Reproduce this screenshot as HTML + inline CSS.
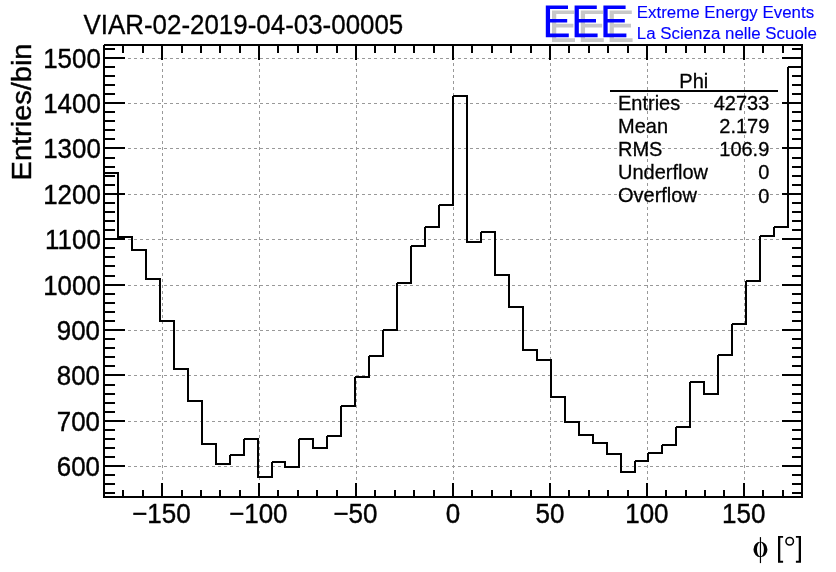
<!DOCTYPE html>
<html><head><meta charset="utf-8"><title>Phi</title>
<style>
html,body{margin:0;padding:0;background:#fff;width:836px;height:572px;overflow:hidden}
svg{display:block;will-change:transform;opacity:0.999}
text{font-family:"Liberation Sans",sans-serif}
</style></head><body>
<svg width="836" height="572" viewBox="0 0 836 572">
<g stroke="#999" stroke-width="1" stroke-dasharray="3 3" shape-rendering="crispEdges">
<line x1="104" y1="466.5" x2="802" y2="466.5"/>
<line x1="104" y1="421.5" x2="802" y2="421.5"/>
<line x1="104" y1="375.5" x2="802" y2="375.5"/>
<line x1="104" y1="330.5" x2="802" y2="330.5"/>
<line x1="104" y1="285.5" x2="802" y2="285.5"/>
<line x1="104" y1="239.5" x2="802" y2="239.5"/>
<line x1="104" y1="194.5" x2="802" y2="194.5"/>
<line x1="104" y1="148.5" x2="802" y2="148.5"/>
<line x1="104" y1="103.5" x2="802" y2="103.5"/>
<line x1="104" y1="58.5" x2="802" y2="58.5"/>
<line x1="162.5" y1="498" x2="162.5" y2="45"/>
<line x1="259.5" y1="498" x2="259.5" y2="45"/>
<line x1="356.5" y1="498" x2="356.5" y2="45"/>
<line x1="453.5" y1="498" x2="453.5" y2="45"/>
<line x1="550.5" y1="498" x2="550.5" y2="45"/>
<line x1="647.5" y1="498" x2="647.5" y2="45"/>
<line x1="744.5" y1="498" x2="744.5" y2="45"/>
</g>
<g shape-rendering="crispEdges">
<rect x="103" y="44" width="700" height="2" fill="#000"/>
<rect x="103" y="496" width="700" height="2" fill="#000"/>
<rect x="103" y="44" width="2" height="454" fill="#000"/>
<rect x="801" y="44" width="2" height="454" fill="#000"/>
<rect x="104" y="492" width="11" height="2" fill="#000"/>
<rect x="792" y="492" width="10" height="2" fill="#000"/>
<rect x="104" y="483" width="11" height="2" fill="#000"/>
<rect x="792" y="483" width="10" height="2" fill="#000"/>
<rect x="104" y="474" width="11" height="2" fill="#000"/>
<rect x="792" y="474" width="10" height="2" fill="#000"/>
<rect x="104" y="465" width="21" height="2" fill="#000"/>
<rect x="782" y="465" width="20" height="2" fill="#000"/>
<rect x="104" y="456" width="11" height="2" fill="#000"/>
<rect x="792" y="456" width="10" height="2" fill="#000"/>
<rect x="104" y="447" width="11" height="2" fill="#000"/>
<rect x="792" y="447" width="10" height="2" fill="#000"/>
<rect x="104" y="438" width="11" height="2" fill="#000"/>
<rect x="792" y="438" width="10" height="2" fill="#000"/>
<rect x="104" y="429" width="11" height="2" fill="#000"/>
<rect x="792" y="429" width="10" height="2" fill="#000"/>
<rect x="104" y="420" width="21" height="2" fill="#000"/>
<rect x="782" y="420" width="20" height="2" fill="#000"/>
<rect x="104" y="411" width="11" height="2" fill="#000"/>
<rect x="792" y="411" width="10" height="2" fill="#000"/>
<rect x="104" y="402" width="11" height="2" fill="#000"/>
<rect x="792" y="402" width="10" height="2" fill="#000"/>
<rect x="104" y="393" width="11" height="2" fill="#000"/>
<rect x="792" y="393" width="10" height="2" fill="#000"/>
<rect x="104" y="384" width="11" height="2" fill="#000"/>
<rect x="792" y="384" width="10" height="2" fill="#000"/>
<rect x="104" y="374" width="21" height="2" fill="#000"/>
<rect x="782" y="374" width="20" height="2" fill="#000"/>
<rect x="104" y="365" width="11" height="2" fill="#000"/>
<rect x="792" y="365" width="10" height="2" fill="#000"/>
<rect x="104" y="356" width="11" height="2" fill="#000"/>
<rect x="792" y="356" width="10" height="2" fill="#000"/>
<rect x="104" y="347" width="11" height="2" fill="#000"/>
<rect x="792" y="347" width="10" height="2" fill="#000"/>
<rect x="104" y="338" width="11" height="2" fill="#000"/>
<rect x="792" y="338" width="10" height="2" fill="#000"/>
<rect x="104" y="329" width="21" height="2" fill="#000"/>
<rect x="782" y="329" width="20" height="2" fill="#000"/>
<rect x="104" y="320" width="11" height="2" fill="#000"/>
<rect x="792" y="320" width="10" height="2" fill="#000"/>
<rect x="104" y="311" width="11" height="2" fill="#000"/>
<rect x="792" y="311" width="10" height="2" fill="#000"/>
<rect x="104" y="302" width="11" height="2" fill="#000"/>
<rect x="792" y="302" width="10" height="2" fill="#000"/>
<rect x="104" y="293" width="11" height="2" fill="#000"/>
<rect x="792" y="293" width="10" height="2" fill="#000"/>
<rect x="104" y="284" width="21" height="2" fill="#000"/>
<rect x="782" y="284" width="20" height="2" fill="#000"/>
<rect x="104" y="275" width="11" height="2" fill="#000"/>
<rect x="792" y="275" width="10" height="2" fill="#000"/>
<rect x="104" y="265" width="11" height="2" fill="#000"/>
<rect x="792" y="265" width="10" height="2" fill="#000"/>
<rect x="104" y="256" width="11" height="2" fill="#000"/>
<rect x="792" y="256" width="10" height="2" fill="#000"/>
<rect x="104" y="247" width="11" height="2" fill="#000"/>
<rect x="792" y="247" width="10" height="2" fill="#000"/>
<rect x="104" y="238" width="21" height="2" fill="#000"/>
<rect x="782" y="238" width="20" height="2" fill="#000"/>
<rect x="104" y="229" width="11" height="2" fill="#000"/>
<rect x="792" y="229" width="10" height="2" fill="#000"/>
<rect x="104" y="220" width="11" height="2" fill="#000"/>
<rect x="792" y="220" width="10" height="2" fill="#000"/>
<rect x="104" y="211" width="11" height="2" fill="#000"/>
<rect x="792" y="211" width="10" height="2" fill="#000"/>
<rect x="104" y="202" width="11" height="2" fill="#000"/>
<rect x="792" y="202" width="10" height="2" fill="#000"/>
<rect x="104" y="193" width="21" height="2" fill="#000"/>
<rect x="782" y="193" width="20" height="2" fill="#000"/>
<rect x="104" y="184" width="11" height="2" fill="#000"/>
<rect x="792" y="184" width="10" height="2" fill="#000"/>
<rect x="104" y="175" width="11" height="2" fill="#000"/>
<rect x="792" y="175" width="10" height="2" fill="#000"/>
<rect x="104" y="166" width="11" height="2" fill="#000"/>
<rect x="792" y="166" width="10" height="2" fill="#000"/>
<rect x="104" y="157" width="11" height="2" fill="#000"/>
<rect x="792" y="157" width="10" height="2" fill="#000"/>
<rect x="104" y="147" width="21" height="2" fill="#000"/>
<rect x="782" y="147" width="20" height="2" fill="#000"/>
<rect x="104" y="138" width="11" height="2" fill="#000"/>
<rect x="792" y="138" width="10" height="2" fill="#000"/>
<rect x="104" y="129" width="11" height="2" fill="#000"/>
<rect x="792" y="129" width="10" height="2" fill="#000"/>
<rect x="104" y="120" width="11" height="2" fill="#000"/>
<rect x="792" y="120" width="10" height="2" fill="#000"/>
<rect x="104" y="111" width="11" height="2" fill="#000"/>
<rect x="792" y="111" width="10" height="2" fill="#000"/>
<rect x="104" y="102" width="21" height="2" fill="#000"/>
<rect x="782" y="102" width="20" height="2" fill="#000"/>
<rect x="104" y="93" width="11" height="2" fill="#000"/>
<rect x="792" y="93" width="10" height="2" fill="#000"/>
<rect x="104" y="84" width="11" height="2" fill="#000"/>
<rect x="792" y="84" width="10" height="2" fill="#000"/>
<rect x="104" y="75" width="11" height="2" fill="#000"/>
<rect x="792" y="75" width="10" height="2" fill="#000"/>
<rect x="104" y="66" width="11" height="2" fill="#000"/>
<rect x="792" y="66" width="10" height="2" fill="#000"/>
<rect x="104" y="57" width="21" height="2" fill="#000"/>
<rect x="782" y="57" width="20" height="2" fill="#000"/>
<rect x="104" y="48" width="11" height="2" fill="#000"/>
<rect x="792" y="48" width="10" height="2" fill="#000"/>
<rect x="122" y="490" width="2" height="7" fill="#000"/>
<rect x="122" y="45" width="2" height="8" fill="#000"/>
<rect x="142" y="490" width="2" height="7" fill="#000"/>
<rect x="142" y="45" width="2" height="8" fill="#000"/>
<rect x="161" y="483" width="2" height="14" fill="#000"/>
<rect x="161" y="45" width="2" height="15" fill="#000"/>
<rect x="181" y="490" width="2" height="7" fill="#000"/>
<rect x="181" y="45" width="2" height="8" fill="#000"/>
<rect x="200" y="490" width="2" height="7" fill="#000"/>
<rect x="200" y="45" width="2" height="8" fill="#000"/>
<rect x="219" y="490" width="2" height="7" fill="#000"/>
<rect x="219" y="45" width="2" height="8" fill="#000"/>
<rect x="239" y="490" width="2" height="7" fill="#000"/>
<rect x="239" y="45" width="2" height="8" fill="#000"/>
<rect x="258" y="483" width="2" height="14" fill="#000"/>
<rect x="258" y="45" width="2" height="15" fill="#000"/>
<rect x="277" y="490" width="2" height="7" fill="#000"/>
<rect x="277" y="45" width="2" height="8" fill="#000"/>
<rect x="297" y="490" width="2" height="7" fill="#000"/>
<rect x="297" y="45" width="2" height="8" fill="#000"/>
<rect x="316" y="490" width="2" height="7" fill="#000"/>
<rect x="316" y="45" width="2" height="8" fill="#000"/>
<rect x="336" y="490" width="2" height="7" fill="#000"/>
<rect x="336" y="45" width="2" height="8" fill="#000"/>
<rect x="355" y="483" width="2" height="14" fill="#000"/>
<rect x="355" y="45" width="2" height="15" fill="#000"/>
<rect x="374" y="490" width="2" height="7" fill="#000"/>
<rect x="374" y="45" width="2" height="8" fill="#000"/>
<rect x="394" y="490" width="2" height="7" fill="#000"/>
<rect x="394" y="45" width="2" height="8" fill="#000"/>
<rect x="413" y="490" width="2" height="7" fill="#000"/>
<rect x="413" y="45" width="2" height="8" fill="#000"/>
<rect x="433" y="490" width="2" height="7" fill="#000"/>
<rect x="433" y="45" width="2" height="8" fill="#000"/>
<rect x="452" y="483" width="2" height="14" fill="#000"/>
<rect x="452" y="45" width="2" height="15" fill="#000"/>
<rect x="471" y="490" width="2" height="7" fill="#000"/>
<rect x="471" y="45" width="2" height="8" fill="#000"/>
<rect x="491" y="490" width="2" height="7" fill="#000"/>
<rect x="491" y="45" width="2" height="8" fill="#000"/>
<rect x="510" y="490" width="2" height="7" fill="#000"/>
<rect x="510" y="45" width="2" height="8" fill="#000"/>
<rect x="530" y="490" width="2" height="7" fill="#000"/>
<rect x="530" y="45" width="2" height="8" fill="#000"/>
<rect x="549" y="483" width="2" height="14" fill="#000"/>
<rect x="549" y="45" width="2" height="15" fill="#000"/>
<rect x="568" y="490" width="2" height="7" fill="#000"/>
<rect x="568" y="45" width="2" height="8" fill="#000"/>
<rect x="588" y="490" width="2" height="7" fill="#000"/>
<rect x="588" y="45" width="2" height="8" fill="#000"/>
<rect x="607" y="490" width="2" height="7" fill="#000"/>
<rect x="607" y="45" width="2" height="8" fill="#000"/>
<rect x="627" y="490" width="2" height="7" fill="#000"/>
<rect x="627" y="45" width="2" height="8" fill="#000"/>
<rect x="646" y="483" width="2" height="14" fill="#000"/>
<rect x="646" y="45" width="2" height="15" fill="#000"/>
<rect x="665" y="490" width="2" height="7" fill="#000"/>
<rect x="665" y="45" width="2" height="8" fill="#000"/>
<rect x="685" y="490" width="2" height="7" fill="#000"/>
<rect x="685" y="45" width="2" height="8" fill="#000"/>
<rect x="704" y="490" width="2" height="7" fill="#000"/>
<rect x="704" y="45" width="2" height="8" fill="#000"/>
<rect x="723" y="490" width="2" height="7" fill="#000"/>
<rect x="723" y="45" width="2" height="8" fill="#000"/>
<rect x="743" y="483" width="2" height="14" fill="#000"/>
<rect x="743" y="45" width="2" height="15" fill="#000"/>
<rect x="762" y="490" width="2" height="7" fill="#000"/>
<rect x="762" y="45" width="2" height="8" fill="#000"/>
<rect x="782" y="490" width="2" height="7" fill="#000"/>
<rect x="782" y="45" width="2" height="8" fill="#000"/>
<rect x="103" y="172" width="16" height="2" fill="#000"/>
<rect x="117" y="172" width="2" height="66" fill="#000"/>
<rect x="117" y="236" width="16" height="2" fill="#000"/>
<rect x="131" y="236" width="2" height="15" fill="#000"/>
<rect x="131" y="249" width="16" height="2" fill="#000"/>
<rect x="145" y="249" width="2" height="31" fill="#000"/>
<rect x="145" y="278" width="16" height="2" fill="#000"/>
<rect x="159" y="278" width="2" height="44" fill="#000"/>
<rect x="159" y="320" width="16" height="2" fill="#000"/>
<rect x="173" y="320" width="2" height="50" fill="#000"/>
<rect x="173" y="368" width="16" height="2" fill="#000"/>
<rect x="187" y="368" width="2" height="34" fill="#000"/>
<rect x="187" y="400" width="16" height="2" fill="#000"/>
<rect x="201" y="400" width="2" height="45" fill="#000"/>
<rect x="201" y="443" width="16" height="2" fill="#000"/>
<rect x="215" y="443" width="2" height="22" fill="#000"/>
<rect x="215" y="463" width="16" height="2" fill="#000"/>
<rect x="229" y="454" width="2" height="11" fill="#000"/>
<rect x="229" y="454" width="16" height="2" fill="#000"/>
<rect x="243" y="438" width="2" height="18" fill="#000"/>
<rect x="243" y="438" width="16" height="2" fill="#000"/>
<rect x="257" y="438" width="2" height="40" fill="#000"/>
<rect x="257" y="476" width="16" height="2" fill="#000"/>
<rect x="271" y="461" width="2" height="17" fill="#000"/>
<rect x="271" y="461" width="15" height="2" fill="#000"/>
<rect x="284" y="461" width="2" height="7" fill="#000"/>
<rect x="284" y="466" width="16" height="2" fill="#000"/>
<rect x="298" y="438" width="2" height="30" fill="#000"/>
<rect x="298" y="438" width="16" height="2" fill="#000"/>
<rect x="312" y="438" width="2" height="11" fill="#000"/>
<rect x="312" y="447" width="16" height="2" fill="#000"/>
<rect x="326" y="435" width="2" height="14" fill="#000"/>
<rect x="326" y="435" width="16" height="2" fill="#000"/>
<rect x="340" y="405" width="2" height="32" fill="#000"/>
<rect x="340" y="405" width="16" height="2" fill="#000"/>
<rect x="354" y="376" width="2" height="31" fill="#000"/>
<rect x="354" y="376" width="16" height="2" fill="#000"/>
<rect x="368" y="355" width="2" height="23" fill="#000"/>
<rect x="368" y="355" width="16" height="2" fill="#000"/>
<rect x="382" y="329" width="2" height="28" fill="#000"/>
<rect x="382" y="329" width="16" height="2" fill="#000"/>
<rect x="396" y="282" width="2" height="49" fill="#000"/>
<rect x="396" y="282" width="16" height="2" fill="#000"/>
<rect x="410" y="245" width="2" height="39" fill="#000"/>
<rect x="410" y="245" width="16" height="2" fill="#000"/>
<rect x="424" y="226" width="2" height="21" fill="#000"/>
<rect x="424" y="226" width="16" height="2" fill="#000"/>
<rect x="438" y="204" width="2" height="24" fill="#000"/>
<rect x="438" y="204" width="16" height="2" fill="#000"/>
<rect x="452" y="95" width="2" height="111" fill="#000"/>
<rect x="452" y="95" width="16" height="2" fill="#000"/>
<rect x="466" y="95" width="2" height="148" fill="#000"/>
<rect x="466" y="241" width="16" height="2" fill="#000"/>
<rect x="480" y="231" width="2" height="12" fill="#000"/>
<rect x="480" y="231" width="16" height="2" fill="#000"/>
<rect x="494" y="231" width="2" height="45" fill="#000"/>
<rect x="494" y="274" width="16" height="2" fill="#000"/>
<rect x="508" y="274" width="2" height="34" fill="#000"/>
<rect x="508" y="306" width="16" height="2" fill="#000"/>
<rect x="522" y="306" width="2" height="45" fill="#000"/>
<rect x="522" y="349" width="16" height="2" fill="#000"/>
<rect x="536" y="349" width="2" height="12" fill="#000"/>
<rect x="536" y="359" width="16" height="2" fill="#000"/>
<rect x="550" y="359" width="2" height="39" fill="#000"/>
<rect x="550" y="396" width="16" height="2" fill="#000"/>
<rect x="564" y="396" width="2" height="27" fill="#000"/>
<rect x="564" y="421" width="16" height="2" fill="#000"/>
<rect x="578" y="421" width="2" height="15" fill="#000"/>
<rect x="578" y="434" width="16" height="2" fill="#000"/>
<rect x="592" y="434" width="2" height="10" fill="#000"/>
<rect x="592" y="442" width="16" height="2" fill="#000"/>
<rect x="606" y="442" width="2" height="13" fill="#000"/>
<rect x="606" y="453" width="16" height="2" fill="#000"/>
<rect x="620" y="453" width="2" height="20" fill="#000"/>
<rect x="620" y="471" width="16" height="2" fill="#000"/>
<rect x="634" y="460" width="2" height="13" fill="#000"/>
<rect x="634" y="460" width="15" height="2" fill="#000"/>
<rect x="647" y="452" width="2" height="10" fill="#000"/>
<rect x="647" y="452" width="16" height="2" fill="#000"/>
<rect x="661" y="444" width="2" height="10" fill="#000"/>
<rect x="661" y="444" width="16" height="2" fill="#000"/>
<rect x="675" y="426" width="2" height="20" fill="#000"/>
<rect x="675" y="426" width="16" height="2" fill="#000"/>
<rect x="689" y="381" width="2" height="47" fill="#000"/>
<rect x="689" y="381" width="16" height="2" fill="#000"/>
<rect x="703" y="381" width="2" height="14" fill="#000"/>
<rect x="703" y="393" width="16" height="2" fill="#000"/>
<rect x="717" y="354" width="2" height="41" fill="#000"/>
<rect x="717" y="354" width="16" height="2" fill="#000"/>
<rect x="731" y="323" width="2" height="33" fill="#000"/>
<rect x="731" y="323" width="16" height="2" fill="#000"/>
<rect x="745" y="280" width="2" height="45" fill="#000"/>
<rect x="745" y="280" width="16" height="2" fill="#000"/>
<rect x="759" y="235" width="2" height="47" fill="#000"/>
<rect x="759" y="235" width="16" height="2" fill="#000"/>
<rect x="773" y="226" width="2" height="11" fill="#000"/>
<rect x="773" y="226" width="16" height="2" fill="#000"/>
<rect x="787" y="66" width="2" height="162" fill="#000"/>
<rect x="787" y="66" width="16" height="2" fill="#000"/>
<rect x="229" y="454" width="1" height="1" fill="#fff"/>
<rect x="243" y="438" width="1" height="1" fill="#fff"/>
<rect x="271" y="461" width="1" height="1" fill="#fff"/>
<rect x="298" y="438" width="1" height="1" fill="#fff"/>
<rect x="326" y="435" width="1" height="1" fill="#fff"/>
<rect x="340" y="405" width="1" height="1" fill="#fff"/>
<rect x="354" y="376" width="1" height="1" fill="#fff"/>
<rect x="368" y="355" width="1" height="1" fill="#fff"/>
<rect x="382" y="329" width="1" height="1" fill="#fff"/>
<rect x="396" y="282" width="1" height="1" fill="#fff"/>
<rect x="410" y="245" width="1" height="1" fill="#fff"/>
<rect x="424" y="226" width="1" height="1" fill="#fff"/>
<rect x="438" y="204" width="1" height="1" fill="#fff"/>
<rect x="452" y="95" width="1" height="1" fill="#fff"/>
<rect x="480" y="231" width="1" height="1" fill="#fff"/>
<rect x="634" y="460" width="1" height="1" fill="#fff"/>
<rect x="647" y="452" width="1" height="1" fill="#fff"/>
<rect x="661" y="444" width="1" height="1" fill="#fff"/>
<rect x="675" y="426" width="1" height="1" fill="#fff"/>
<rect x="689" y="381" width="1" height="1" fill="#fff"/>
<rect x="717" y="354" width="1" height="1" fill="#fff"/>
<rect x="731" y="323" width="1" height="1" fill="#fff"/>
<rect x="745" y="280" width="1" height="1" fill="#fff"/>
<rect x="759" y="235" width="1" height="1" fill="#fff"/>
<rect x="773" y="226" width="1" height="1" fill="#fff"/>
<rect x="787" y="66" width="1" height="1" fill="#fff"/>
<rect x="103" y="44" width="1" height="1" fill="#fff"/>
<rect x="610" y="90" width="168" height="2" fill="#000"/>
</g>
<g font-family="Liberation Sans, sans-serif" fill="#000">
<text transform="translate(83.5,34) scale(1,1.045)" font-size="25.93" stroke="#000" stroke-width="0.31">VIAR-02-2019-04-03-00005</text>
<text transform="translate(100,476.2) scale(1,1.055)" font-size="25.9" text-anchor="end" stroke="#000" stroke-width="0.39">600</text>
<text transform="translate(100,431.2) scale(1,1.055)" font-size="25.9" text-anchor="end" stroke="#000" stroke-width="0.39">700</text>
<text transform="translate(100,385.2) scale(1,1.055)" font-size="25.9" text-anchor="end" stroke="#000" stroke-width="0.39">800</text>
<text transform="translate(100,340.2) scale(1,1.055)" font-size="25.9" text-anchor="end" stroke="#000" stroke-width="0.39">900</text>
<text transform="translate(100.8,295.2) scale(1,1.055)" font-size="25.9" text-anchor="end" stroke="#000" stroke-width="0.39">1000</text>
<text transform="translate(100.8,249.2) scale(1,1.055)" font-size="25.9" text-anchor="end" stroke="#000" stroke-width="0.39">1100</text>
<text transform="translate(100.8,204.2) scale(1,1.055)" font-size="25.9" text-anchor="end" stroke="#000" stroke-width="0.39">1200</text>
<text transform="translate(100.8,158.2) scale(1,1.055)" font-size="25.9" text-anchor="end" stroke="#000" stroke-width="0.39">1300</text>
<text transform="translate(100.8,113.2) scale(1,1.055)" font-size="25.9" text-anchor="end" stroke="#000" stroke-width="0.39">1400</text>
<text transform="translate(100.8,68.2) scale(1,1.055)" font-size="25.9" text-anchor="end" stroke="#000" stroke-width="0.39">1500</text>
<text transform="translate(161.4,522.7) scale(1,1.055)" font-size="26" text-anchor="middle" stroke="#000" stroke-width="0.39">−150</text>
<text transform="translate(258.3,522.7) scale(1,1.055)" font-size="26" text-anchor="middle" stroke="#000" stroke-width="0.39">−100</text>
<text transform="translate(355.3,522.7) scale(1,1.055)" font-size="26" text-anchor="middle" stroke="#000" stroke-width="0.39">−50</text>
<text transform="translate(453,522.7) scale(1,1.055)" font-size="26" text-anchor="middle" stroke="#000" stroke-width="0.39">0</text>
<text transform="translate(549.9,522.7) scale(1,1.055)" font-size="26" text-anchor="middle" stroke="#000" stroke-width="0.39">50</text>
<text transform="translate(646.9,522.7) scale(1,1.055)" font-size="26" text-anchor="middle" stroke="#000" stroke-width="0.39">100</text>
<text transform="translate(743.8,522.7) scale(1,1.055)" font-size="26" text-anchor="middle" stroke="#000" stroke-width="0.39">150</text>
<text transform="translate(31.2,43.5) rotate(-90) scale(1,0.975)" font-size="29" text-anchor="end" stroke="#000" stroke-width="0.43">Entries/bin</text>
<text transform="translate(693.8,87.6) scale(1,1)" font-size="20" text-anchor="middle" stroke="#000" stroke-width="0.3">Phi</text>
<text transform="translate(618,109.5) scale(1,1.02)" font-size="20" stroke="#000" stroke-width="0.3">Entries</text>
<text transform="translate(769.3,110) scale(1,1.03)" font-size="20" text-anchor="end" stroke="#000" stroke-width="0.3">42733</text>
<text transform="translate(618,132.7) scale(1,1.02)" font-size="20" stroke="#000" stroke-width="0.3">Mean</text>
<text transform="translate(769.3,133.2) scale(1,1.03)" font-size="20" text-anchor="end" stroke="#000" stroke-width="0.3">2.179</text>
<text transform="translate(618,155.8) scale(1,1.02)" font-size="20" stroke="#000" stroke-width="0.3">RMS</text>
<text transform="translate(769.3,156.3) scale(1,1.03)" font-size="20" text-anchor="end" stroke="#000" stroke-width="0.3">106.9</text>
<text transform="translate(618,178.9) scale(1,1.02)" font-size="20" stroke="#000" stroke-width="0.3">Underflow</text>
<text transform="translate(769.3,179.4) scale(1,1.03)" font-size="20" text-anchor="end" stroke="#000" stroke-width="0.3">0</text>
<text transform="translate(618,202.1) scale(1,1.02)" font-size="20" stroke="#000" stroke-width="0.3">Overflow</text>
<text transform="translate(769.3,202.6) scale(1,1.03)" font-size="20" text-anchor="end" stroke="#000" stroke-width="0.3">0</text>
</g>
<g fill="#000"><path fill-rule="evenodd" d="M753.45,549.45 a7.0,7.7 0 1 0 14.0,0 a7.0,7.7 0 1 0 -14.0,0 Z M757.0,549.45 a3.45,7.15 0 1 0 6.9,0 a3.45,7.15 0 1 0 -6.9,0 Z"/><rect x="759.85" y="537.1" width="1.2" height="26"/></g>
<g fill="#000"><path d="M778.0,535.9 h5.1 v1.9 h-2.8 v23.0 h2.8 v1.9 h-5.1 Z"/><path d="M801.0,535.9 h-5.1 v1.9 h2.8 v23.0 h-2.8 v1.9 h5.1 Z"/><circle cx="789.7" cy="541.25" r="3.75" fill="none" stroke="#000" stroke-width="1.55"/></g>
<path fill="#c8c8c8" d="M552.00,10.40 h22.2 v3.55 h-17.95 v9.85 h17.15 v3.6 h-17.15 v10.9 h18.75 v3.8 h-23 Z"/>
<path fill="#c8c8c8" d="M580.80,10.40 h22.2 v3.55 h-17.95 v9.85 h17.15 v3.6 h-17.15 v10.9 h18.75 v3.8 h-23 Z"/>
<path fill="#c8c8c8" d="M609.60,10.40 h22.2 v3.55 h-17.95 v9.85 h17.15 v3.6 h-17.15 v10.9 h18.75 v3.8 h-23 Z"/>
<path fill="#0000ff" d="M545.80,5.50 h22.2 v3.55 h-17.95 v9.85 h17.15 v3.6 h-17.15 v10.9 h18.75 v3.8 h-23 Z"/>
<path fill="#0000ff" d="M574.60,5.50 h22.2 v3.55 h-17.95 v9.85 h17.15 v3.6 h-17.15 v10.9 h18.75 v3.8 h-23 Z"/>
<path fill="#0000ff" d="M603.40,5.50 h22.2 v3.55 h-17.95 v9.85 h17.15 v3.6 h-17.15 v10.9 h18.75 v3.8 h-23 Z"/>
<g font-family="Liberation Sans, sans-serif" font-size="16.9" fill="#0000ff">
<text transform="translate(636.8,17.7) scale(1,1.02)" font-size="16.9" fill="#0000ff" stroke="#0000ff" stroke-width="0.14">Extreme Energy Events</text>
<text transform="translate(636.8,38.7) scale(1,1.02)" font-size="16.9" fill="#0000ff" stroke="#0000ff" stroke-width="0.14">La Scienza nelle Scuole</text>
</g>
</svg>
</body></html>
